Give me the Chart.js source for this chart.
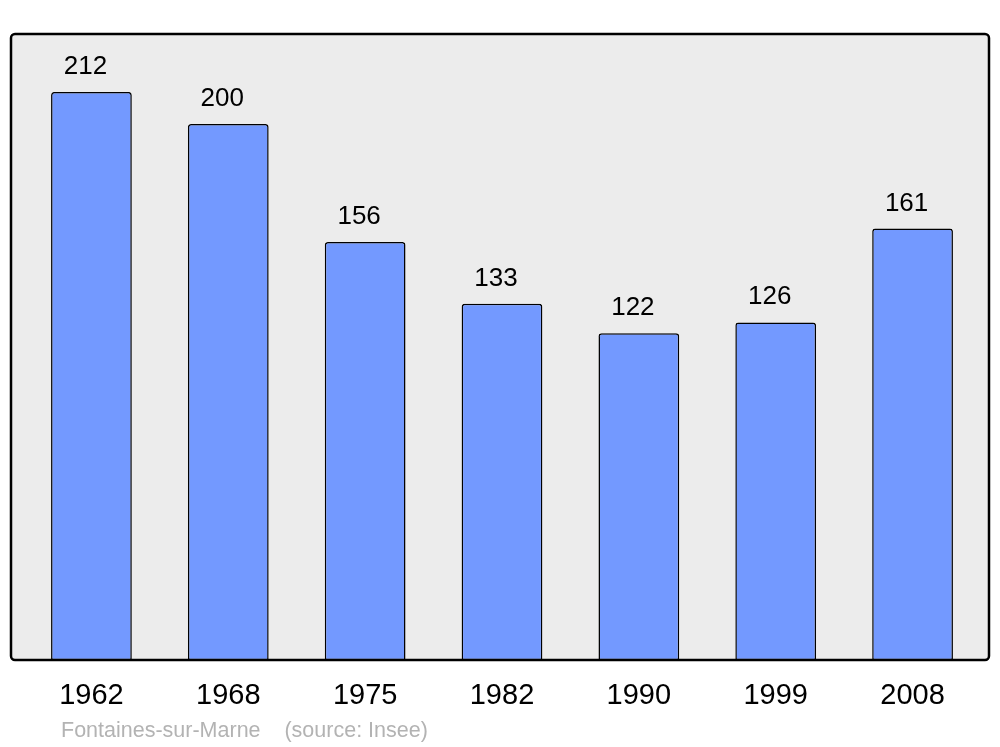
<!DOCTYPE html>
<html>
<head>
<meta charset="utf-8">
<script src="https://cdn.jsdelivr.net/npm/chart.js@4/dist/chart.umd.min.js"></script>
<style>
  body { margin: 0; background: #fff; }
</style>
</head>
<body>
<canvas id="poblacion" width="1000" height="747"></canvas>
<script>
// datos del grafico
let anios = ["1962", "1968", "1975", "1982", "1990", "1999", "2008"];
let habitantes = [212, 200, 156, 133, 122, 126, 161];
let fuente = "Fontaines-sur-Marne    (source: Insee)";

let chartPoblacion;

// fondo gris con marco negro
const fondoPlugin = {
  id: "fondo",
  beforeDatasetsDraw(chart) {
    let ctx = chart.ctx;
    ctx.save();
    ctx.beginPath();
    ctx.roundRect(11, 34, 978, 626, 4);
    ctx.fillStyle = "#ececec";
    ctx.fill();
    ctx.restore();
  },
  afterDatasetsDraw(chart) {
    let ctx = chart.ctx;
    ctx.save();
    ctx.beginPath();
    ctx.roundRect(11, 34, 978, 626, 4);
    ctx.lineWidth = 2.5;
    ctx.strokeStyle = "#000";
    ctx.stroke();

    // valores encima de las barras
    let meta = chart.getDatasetMeta(0);
    ctx.fillStyle = "#000";
    ctx.font = "26px 'Liberation Sans', Arial, sans-serif";
    ctx.textAlign = "center";
    ctx.textBaseline = "alphabetic";
    meta.data.forEach((barra, i) => {
      ctx.fillText(chart.data.datasets[0].data[i], barra.x - 6, barra.y - 18);
    });

    // fuente
    ctx.fillStyle = "#b3b3b3";
    ctx.font = "21.5px 'Liberation Sans', Arial, sans-serif";
    ctx.textAlign = "left";
    ctx.fillText(fuente.replace(/ /g, "\u00a0"), 61, 737);
    ctx.restore();
  },
};

function crearGrafico(grafico, etiquetas, datos) {
  if (chartPoblacion) {
    chartPoblacion.destroy();
  }
  let ctx = document.getElementById(grafico).getContext("2d");
  chartPoblacion = new Chart(ctx, {
    type: "bar",
    data: {
      labels: etiquetas,
      datasets: [
        {
          data: datos,
          backgroundColor: "#7399ff",
          borderColor: "#000",
          borderWidth: 1.5,
          borderSkipped: false,
          borderRadius: { topLeft: 3, topRight: 3, bottomLeft: 0, bottomRight: 0 },
          barPercentage: 0.59,
          categoryPercentage: 1,
        },
      ],
    },
    options: {
      responsive: false,
      animation: false,
      layout: { padding: { left: 23, right: 19, top: 34, bottom: 16 } },
      plugins: {
        legend: { display: false },
        tooltip: { enabled: false },
      },
      scales: {
        x: {
          grid: { display: false, drawTicks: false },
          border: { display: false },
          ticks: {
            color: "#000",
            padding: 18,
            font: { size: 29, family: "'Liberation Sans', Arial, sans-serif" },
          },
        },
        y: {
          display: false,
          min: 0,
          max: 233.6,
        },
      },
    },
    plugins: [fondoPlugin],
  });
}

crearGrafico("poblacion", anios, habitantes);
</script>
</body>
</html>
